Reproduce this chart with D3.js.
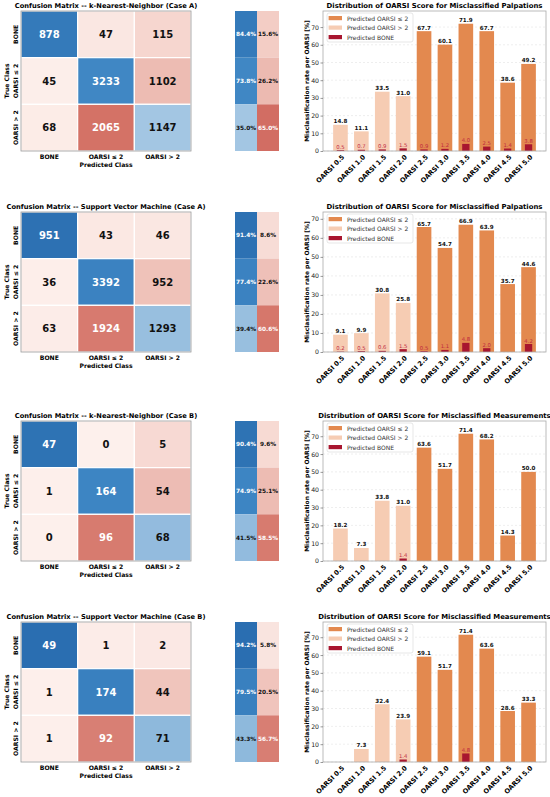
<!DOCTYPE html>
<html><head><meta charset="utf-8">
<title>Confusion matrices and misclassified OARSI scores</title>
<script src="https://d3js.org/d3.v7.min.js"></script>
<style>
  body { margin: 0; background: #fff; }
  text { font-family: "DejaVu Sans", sans-serif; }
</style>
</head>
<body>
<svg width="550" height="797"></svg>
<script>
// ---- confusion matrix data (rows = true class, columns = predicted class)
const classes = ["BONE", "OARSI \u2264 2", "OARSI > 2"]
const cmTitles = [
  "Confusion Matrix -- k-Nearest-Neighbor (Case A)",
  "Confusion Matrix -- Support Vector Machine (Case A)",
  "Confusion Matrix -- k-Nearest-Neighbor (Case B)",
  "Confusion Matrix -- Support Vector Machine (Case B)"
]
const cmKnnA = [[878, 47, 115], [45, 3233, 1102], [68, 2065, 1147]]
const cmSvmA = [[951, 43, 46], [36, 3392, 952], [63, 1924, 1293]]
const cmKnnB = [[47, 0, 5], [1, 164, 54], [0, 96, 68]]
const cmSvmB = [[49, 1, 2], [1, 174, 44], [1, 92, 71]]

// per-class recall [%]
const recallKnnA = [84.4, 73.8, 35.0]
const recallSvmA = [91.4, 77.4, 39.4]
const recallKnnB = [90.4, 74.9, 41.5]
const recallSvmB = [94.2, 79.5, 43.3]

// ---- misclassification bars
const oarsi = ["OARSI 0.5", "OARSI 1.0", "OARSI 1.5", "OARSI 2.0", "OARSI 2.5",
               "OARSI 3.0", "OARSI 3.5", "OARSI 4.0", "OARSI 4.5", "OARSI 5.0"]
const barTitles = [
  "Distribution of OARSI Score for Misclassified Palpations",
  "Distribution of OARSI Score for Misclassified Palpations",
  "Distribution of OARSI Score for Misclassified Measurements",
  "Distribution of OARSI Score for Misclassified Measurements"
]
const seriesNames = ["Predicted OARSI \u2264 2", "Predicted OARSI > 2", "Predicted BONE"]
const yTicks = [0, 10, 20, 30, 40, 50, 60, 70]

const lowKnnA  = [0, 0, 0, 0, 67.7, 60.1, 71.9, 67.7, 38.6, 49.2]
const highKnnA = [14.8, 11.1, 33.5, 31.0, 0, 0, 0, 0, 0, 0]
const boneKnnA = [0.5, 0.7, 0.9, 1.5, 0.9, 1.2, 4.0, 2.5, 1.4, 3.8]

const lowSvmA  = [0, 0, 0, 0, 65.7, 54.7, 66.9, 63.9, 35.7, 44.6]
const highSvmA = [9.1, 9.9, 30.8, 25.8, 0, 0, 0, 0, 0, 0]
const boneSvmA = [0.2, 0.5, 0.6, 1.5, 0.5, 1.1, 4.8, 2.0, 0, 4.2]

const lowKnnB  = [0, 0, 0, 0, 63.6, 51.7, 71.4, 68.2, 14.3, 50.0]
const highKnnB = [18.2, 7.3, 33.8, 31.0, 0, 0, 0, 0, 0, 0]
const boneKnnB = [0, 0, 0, 1.4, 0, 0, 0, 0, 0, 0]

const lowSvmB  = [0, 0, 0, 0, 59.1, 51.7, 71.4, 63.6, 28.6, 33.3]
const highSvmB = [0, 7.3, 32.4, 23.9, 0, 0, 0, 0, 0, 0]
const boneSvmB = [0, 0, 0, 1.4, 0, 0, 4.8, 0, 0, 0]

const rows = [
  {cm: cmKnnA, recall: recallKnnA, low: lowKnnA, high: highKnnA, bone: boneKnnA},
  {cm: cmSvmA, recall: recallSvmA, low: lowSvmA, high: highSvmA, bone: boneSvmA},
  {cm: cmKnnB, recall: recallKnnB, low: lowKnnB, high: highKnnB, bone: boneKnnB},
  {cm: cmSvmB, recall: recallSvmB, low: lowSvmB, high: highSvmB, bone: boneSvmB}
]

// layout
const rowTop = [11, 212, 421, 622]
const panelH = 140
const cmLeft = 21, cmRight = 191
const recLeft = 235, recRight = 279
const barLeft = 323, barRight = 546

// colour scales driven by row share
const blue = d3.scaleLinear()
  .domain([0, 0.35, 0.75, 1])
  .range(["#f7fbff", "#a3c6e3", "#3d85c3", "#2467ab"])
const red = d3.scaleLinear()
  .domain([0, 0.05, 0.12, 0.26, 0.63, 1])
  .range(["#fdf0ec", "#fae6e1", "#f5d3cc", "#ecbab1", "#d47266", "#b2182b"])

const colLow = "#e3894f", colHigh = "#f6ccb3", colBone = "#a8162f"

const svg = d3.select("svg")

function drawMatrix(top, title, cm, recall) {
  const g = svg.append("g")
  const x = d3.scaleBand().domain([0, 1, 2]).range([cmLeft, cmRight])
  const y = d3.scaleBand().domain([0, 1, 2]).range([top, top + panelH])

  const cells = []
  cm.forEach((row, i) => {
    const total = d3.sum(row)
    row.forEach((v, j) => cells.push({i, j, v, p: v / total}))
  })

  g.selectAll("rect.cell")
    .data(cells)
    .join("rect")
      .attr("x", d => x(d.j))
      .attr("y", d => y(d.i))
      .attr("width", x.bandwidth())
      .attr("height", y.bandwidth())
      .attr("fill", d => d.i == d.j ? blue(d.p) : red(d.p))
      .attr("stroke", "#fff")
      .attr("stroke-width", 1.2)

  g.selectAll("text.cell")
    .data(cells)
    .join("text")
      .attr("x", d => x(d.j) + x.bandwidth() / 2)
      .attr("y", d => y(d.i) + y.bandwidth() / 2)
      .attr("text-anchor", "middle")
      .attr("dominant-baseline", "central")
      .style("font-size", "10px")
      .style("font-weight", "bold")
      .attr("fill", d => d.p > 0.5 ? "#fff" : "#111")
      .text(d => d.v)

  g.append("rect")
    .attr("x", cmLeft).attr("y", top)
    .attr("width", cmRight - cmLeft).attr("height", panelH)
    .attr("fill", "none").attr("stroke", "#999").attr("stroke-width", 0.8)

  g.append("text")
    .attr("x", (cmLeft + cmRight) / 2).attr("y", top - 3)
    .attr("text-anchor", "middle")
    .style("font-size", "6.7px").style("font-weight", "bold")
    .text(title)

  // tick labels
  g.selectAll("text.xt")
    .data(classes)
    .join("text")
      .attr("x", (d, i) => x(i) + x.bandwidth() / 2)
      .attr("y", top + panelH + 8)
      .attr("text-anchor", "middle")
      .style("font-size", "6.1px").style("font-weight", "bold")
      .text(d => d)
  g.append("text")
    .attr("x", (cmLeft + cmRight) / 2).attr("y", top + panelH + 16)
    .attr("text-anchor", "middle")
    .style("font-size", "6.1px").style("font-weight", "bold")
    .text("Predicted Class")

  g.selectAll("text.yt")
    .data(classes)
    .join("text")
      .attr("transform", (d, i) => "translate(15," + (y(i) + y.bandwidth() / 2) + ") rotate(-90)")
      .attr("text-anchor", "middle")
      .attr("dominant-baseline", "central")
      .style("font-size", "6.1px").style("font-weight", "bold")
      .text(d => d)
  g.append("text")
    .attr("transform", "translate(6," + (top + panelH / 2) + ") rotate(-90)")
    .attr("text-anchor", "middle")
    .attr("dominant-baseline", "central")
    .style("font-size", "6.1px").style("font-weight", "bold")
    .text("True Class")

  // recall / error columns
  const xr = d3.scaleBand().domain([0, 1]).range([recLeft, recRight])
  const rc = []
  recall.forEach((r, i) => {
    rc.push({i, c: 0, p: r / 100, label: r.toFixed(1) + "%"})
    rc.push({i, c: 1, p: 1 - r / 100, label: (100 - r).toFixed(1) + "%"})
  })
  g.selectAll("rect.rec")
    .data(rc)
    .join("rect")
      .attr("x", d => xr(d.c))
      .attr("y", d => y(d.i))
      .attr("width", xr.bandwidth())
      .attr("height", y.bandwidth())
      .attr("fill", d => d.c == 0 ? blue(d.p) : red(d.p))
  g.selectAll("text.rec")
    .data(rc)
    .join("text")
      .attr("x", d => xr(d.c) + xr.bandwidth() / 2)
      .attr("y", d => y(d.i) + y.bandwidth() / 2)
      .attr("text-anchor", "middle")
      .attr("dominant-baseline", "central")
      .style("font-size", "5.8px").style("font-weight", "bold")
      .attr("fill", d => d.p > 0.5 ? "#fff" : "#111")
      .text(d => d.label)
}

function drawBars(top, title, low, high, bone) {
  const g = svg.append("g")
  const x = d3.scaleBand().domain(oarsi).range([barLeft, barRight])
              .paddingInner(0.3).paddingOuter(0.485)
  const ymax = d3.max([...low, ...high, ...bone]) * 1.1
  const y = d3.scaleLinear().domain([0, ymax]).range([top + panelH, top])

  // grid
  g.selectAll("line.grid")
    .data(yTicks)
    .join("line")
      .attr("x1", barLeft).attr("x2", barRight)
      .attr("y1", d => y(d)).attr("y2", d => y(d))
      .attr("stroke", "#ddd").attr("stroke-width", 0.5)
      .attr("stroke-dasharray", "2,2")

  const idx = d3.range(oarsi.length)
  g.selectAll("rect.high")
    .data(idx.filter(i => high[i] > 0))
    .join("rect")
      .attr("x", i => x(oarsi[i])).attr("width", x.bandwidth())
      .attr("y", i => y(high[i])).attr("height", i => y(0) - y(high[i]))
      .attr("fill", colHigh)
  g.selectAll("rect.low")
    .data(idx.filter(i => low[i] > 0))
    .join("rect")
      .attr("x", i => x(oarsi[i])).attr("width", x.bandwidth())
      .attr("y", i => y(low[i])).attr("height", i => y(0) - y(low[i]))
      .attr("fill", colLow)
  g.selectAll("rect.bone")
    .data(idx.filter(i => bone[i] > 0))
    .join("rect")
      .attr("x", i => x(oarsi[i]) + x.bandwidth() / 4).attr("width", x.bandwidth() / 2)
      .attr("y", i => y(bone[i])).attr("height", i => y(0) - y(bone[i]))
      .attr("fill", colBone)

  // value labels
  const main = idx.map(i => Math.max(low[i], high[i]))
  g.selectAll("text.val")
    .data(idx.filter(i => main[i] > 0))
    .join("text")
      .attr("x", i => x(oarsi[i]) + x.bandwidth() / 2)
      .attr("y", i => y(main[i]) - 1.5)
      .attr("text-anchor", "middle")
      .style("font-size", "5.6px").style("font-weight", "bold")
      .attr("fill", "#111")
      .text(i => main[i].toFixed(1))
  g.selectAll("text.bval")
    .data(idx.filter(i => bone[i] > 0))
    .join("text")
      .attr("x", i => x(oarsi[i]) + x.bandwidth() / 2)
      .attr("y", i => y(bone[i]) - 1.5)
      .attr("text-anchor", "middle")
      .style("font-size", "5.3px")
      .attr("fill", "#c0283f")
      .text(i => bone[i].toFixed(1))

  // frame
  g.append("rect")
    .attr("x", barLeft).attr("y", top)
    .attr("width", barRight - barLeft).attr("height", panelH)
    .attr("fill", "none").attr("stroke", "#aaa").attr("stroke-width", 0.8)

  // y axis
  const ya = g.append("g")
    .attr("transform", "translate(" + barLeft + ",0)")
    .call(d3.axisLeft(y).tickValues(yTicks).tickSize(2.5).tickPadding(1.5))
  ya.select(".domain").remove()
  ya.selectAll("line").attr("stroke", "#555").attr("stroke-width", 0.6)
  ya.selectAll("text").style("font-size", "6.2px").attr("fill", "#222")
    .style("font-family", "DejaVu Sans")

  // x tick labels
  g.selectAll("text.xt")
    .data(oarsi)
    .join("text")
      .attr("transform", d => "translate(" + (x(d) + x.bandwidth() / 2 + 3) + "," + (top + panelH + 5) + ") rotate(-45)")
      .attr("text-anchor", "end")
      .attr("dominant-baseline", "central")
      .style("font-size", "6.6px").style("font-weight", "bold")
      .text(d => d)

  g.append("text")
    .attr("transform", "translate(306," + (top + panelH / 2) + ") rotate(-90)")
    .attr("text-anchor", "middle")
    .attr("dominant-baseline", "central")
    .style("font-size", "6px").style("font-weight", "bold")
    .text("Misclassification rate per OARSI [%]")

  g.append("text")
    .attr("x", (barLeft + barRight) / 2).attr("y", top - 3)
    .attr("text-anchor", "middle")
    .style("font-size", "6.9px").style("font-weight", "bold")
    .text(title)

  // legend
  const lg = g.append("g").attr("transform", "translate(" + (barLeft + 4) + "," + (top + 2) + ")")
  lg.append("rect")
    .attr("width", 86).attr("height", 29).attr("rx", 2)
    .attr("fill", "#fff").attr("fill-opacity", 0.85)
    .attr("stroke", "#ccc").attr("stroke-width", 0.5)
  const lc = [colLow, colHigh, colBone]
  lg.selectAll("rect.key")
    .data(seriesNames)
    .join("rect")
      .attr("x", 1.6).attr("y", (d, i) => 3 + i * 9.5)
      .attr("width", 13.4).attr("height", 4.2)
      .attr("fill", (d, i) => lc[i])
  lg.selectAll("text.key")
    .data(seriesNames)
    .join("text")
      .attr("x", 20).attr("y", (d, i) => 5.1 + i * 9.5)
      .attr("dominant-baseline", "central")
      .style("font-size", "6px").attr("fill", "#333")
      .text(d => d)
}

rows.forEach((r, k) => {
  drawMatrix(rowTop[k], cmTitles[k], r.cm, r.recall)
  drawBars(rowTop[k], barTitles[k], r.low, r.high, r.bone)
})
</script>
</body></html>
